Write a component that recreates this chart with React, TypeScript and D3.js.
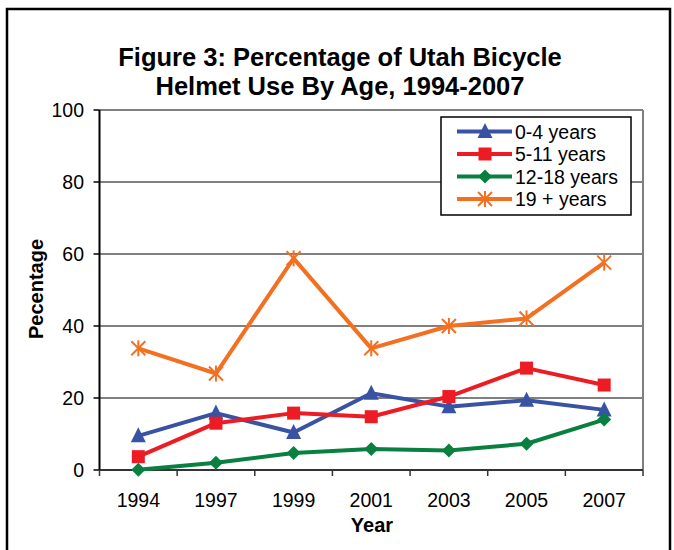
import React from "react";
import * as d3 from "d3";

const years = ["1994", "1997", "1999", "2001", "2003", "2005", "2007"];
const age0to4 = [9.5, 15.8, 10.4, 21.3, 17.6, 19.4, 16.7];
const age5to11 = [3.7, 13.0, 15.8, 14.8, 20.4, 28.3, 23.6];
const age12to18 = [0.1, 2.0, 4.7, 5.8, 5.4, 7.3, 14.0];
const age19plus = [33.8, 26.8, 58.8, 33.8, 40.0, 42.1, 57.6];
const yTicks = [0, 20, 40, 60, 80, 100];
const titleLines = ["Figure 3: Percentage of Utah Bicycle", "Helmet Use By Age, 1994-2007"];

const series = [
  { name: "0-4 years", values: age0to4, color: "#3953A4", marker: "triangle" },
  { name: "5-11 years", values: age5to11, color: "#ED1C24", marker: "square" },
  { name: "12-18 years", values: age12to18, color: "#0A8040", marker: "diamond" },
  { name: "19 + years", values: age19plus, color: "#F37021", marker: "asterisk" },
];

const W = 674, H = 550;
const left = 99.5, right = 643, top = 110, bottom = 470;
const FONT = "Arial, 'Liberation Sans', sans-serif";

function Marker({ type, x, y, color }: { type: string; x: number; y: number; color: string }) {
  if (type === "triangle") {
    const s = 7.5;
    return <path d={`M${x},${y - s - 1}L${x + s},${y + s - 1}L${x - s},${y + s - 1}Z`} fill={color} />;
  }
  if (type === "square") {
    const s = 6.5;
    return <rect x={x - s} y={y - s} width={2 * s} height={2 * s} fill={color} />;
  }
  if (type === "diamond") {
    const s = 7;
    return <path d={`M${x},${y - s}L${x + s},${y}L${x},${y + s}L${x - s},${y}Z`} fill={color} />;
  }
  const s = 7;
  return (
    <g stroke={color} strokeWidth={2}>
      <line x1={x - s} y1={y - s} x2={x + s} y2={y + s} />
      <line x1={x - s} y1={y + s} x2={x + s} y2={y - s} />
      <line x1={x} y1={y - s - 1} x2={x} y2={y + s + 1} />
    </g>
  );
}

export default function App() {
  const x = d3.scaleBand<string>().domain(years).range([left, right]);
  const y = d3.scaleLinear().domain([0, 100]).range([bottom, top]);
  const line = d3
    .line<number>()
    .x((_, i) => (x(years[i]) as number) + x.bandwidth() / 2)
    .y((d) => y(d));
  const bounds = [...years.map((yr) => x(yr) as number), right];

  return (
    <svg width={W} height={H} style={{ position: "absolute", left: 0, top: 0, background: "#fff" }} fontFamily={FONT}>
      <rect x={7} y={9} width={663} height={560} fill="#fff" stroke="#000" strokeWidth={2.5} />
      {titleLines.map((t, i) => (
        <text key={i} x={340} y={66 + i * 29} textAnchor="middle" fontSize={25.5} fontWeight="bold" fill="#000">
          {t}
        </text>
      ))}
      {yTicks.map((t) => (
        <g key={t}>
          {t > 0 && <line x1={left} x2={right} y1={y(t)} y2={y(t)} stroke="#808080" strokeWidth={2} />}
          <line x1={left - 6} x2={left} y1={y(t)} y2={y(t)} stroke="#000" strokeWidth={1.5} />
          <text x={84} y={y(t) + 7} textAnchor="end" fontSize={19.5} fill="#000">
            {t}
          </text>
        </g>
      ))}
      <line x1={right} x2={right} y1={top} y2={bottom} stroke="#808080" strokeWidth={2} />
      <line x1={left} x2={left} y1={top} y2={bottom} stroke="#000" strokeWidth={2} />
      <line x1={left} x2={right} y1={bottom} y2={bottom} stroke="#333" strokeWidth={2} />
      {bounds.map((b, i) => (
        <line key={i} x1={b} x2={b} y1={bottom} y2={bottom + 6} stroke="#333" strokeWidth={1.5} />
      ))}
      {years.map((yr) => (
        <text key={yr} x={(x(yr) as number) + x.bandwidth() / 2} y={507} textAnchor="middle" fontSize={19.5} fill="#000">
          {yr}
        </text>
      ))}
      <text x={372} y={532} textAnchor="middle" fontSize={20} fontWeight="bold" fill="#000">
        Year
      </text>
      <text transform={`translate(43,${289}) rotate(-90)`} textAnchor="middle" fontSize={20} fontWeight="bold" fill="#000">
        Pecentage
      </text>
      {series.map((s) => (
        <g key={s.name}>
          <path d={line(s.values) || ""} fill="none" stroke={s.color} strokeWidth={4} strokeLinejoin="round" />
          {s.values.map((v, i) => (
            <Marker key={i} type={s.marker} x={(x(years[i]) as number) + x.bandwidth() / 2} y={y(v)} color={s.color} />
          ))}
        </g>
      ))}
      <rect x={441} y={117} width={190} height={98} fill="#fff" stroke="#000" strokeWidth={1.5} />
      {series.map((s, i) => {
        const ly = 131.5 + i * 22.5;
        return (
          <g key={s.name}>
            <line x1={457} x2={512} y1={ly} y2={ly} stroke={s.color} strokeWidth={4} />
            <Marker type={s.marker} x={485} y={ly} color={s.color} />
            <text x={515} y={ly + 7} fontSize={19.5} fill="#000">
              {s.name}
            </text>
          </g>
        );
      })}
    </svg>
  );
}
